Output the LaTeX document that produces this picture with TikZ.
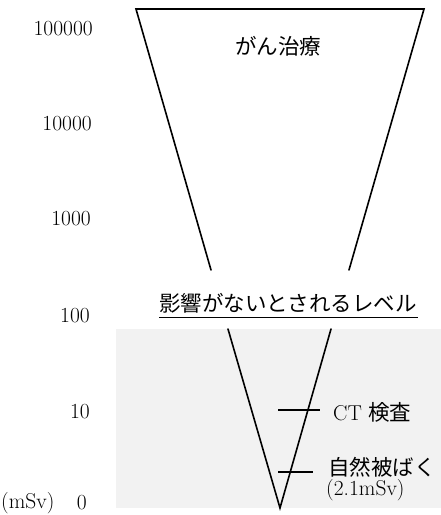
\documentclass[tikz,border=0pt]{standalone}
\usepackage{fontspec}
\newfontfamily\jp{Noto Sans CJK JP}
\definecolor{zone}{HTML}{F2F2F2}
\begin{document}
\begin{tikzpicture}[x=1pt,y=-1pt,
  lbl/.style={font=\fontsize{21.5}{26}\selectfont, inner sep=0pt},
  num/.style={lbl, anchor=east},
  vline/.style={line width=1.6pt, line cap=round},
  tick/.style={line width=1.6pt}]
\useasboundingbox (0,0) rectangle (441,515);
\fill[zone] (116,329) rectangle (441,508);
% funnel
\coordinate (tl) at (136,9);
\coordinate (tr) at (424,9);
\coordinate (la) at (211,270);
\coordinate (ra) at (349,270);
\coordinate (lb) at (228,329);
\coordinate (rb) at (331,329);
\coordinate (apex) at (280,508);
\draw[vline] (la) -- (tl) -- (tr) -- (ra);
\draw[vline] (lb) -- (apex) -- (rb);
% ticks
\coordinate (ct1) at (278,410);
\coordinate (ct2) at (320,410);
\coordinate (nb1) at (278,472);
\coordinate (nb2) at (313,472);
\draw[tick] (ct1) -- (ct2);
\draw[tick] (nb1) -- (nb2);
% axis numbers
\node[num] (n5) at (93,29) {100000};
\node[num] (n4) at (92,124) {10000};
\node[num] (n3) at (91,219) {1000};
\node[num] (n2) at (90,316) {100};
\node[num] (n1) at (90,412) {10};
\node[num] (n0) at (87,503) {0};
\node[lbl, anchor=west] (unit) at (1,503) {(mSv)};
% labels
\node[lbl] (cancer) at (278,46) {\jp がん治療};
\node[lbl] (safe) at (288,303) {\jp 影響がないとされるレベル};
\draw[line width=0.9pt] (159,317) -- (418,317);
\node[lbl, anchor=west] (ct) at (333,412) {CT {\jp 検査}};
\node[lbl, anchor=west] (nat) at (328,467) {\jp 自然被ばく};
\node[lbl, anchor=west] (nat2) at (326,490) {(2.1mSv)};
\end{tikzpicture}
\end{document}
